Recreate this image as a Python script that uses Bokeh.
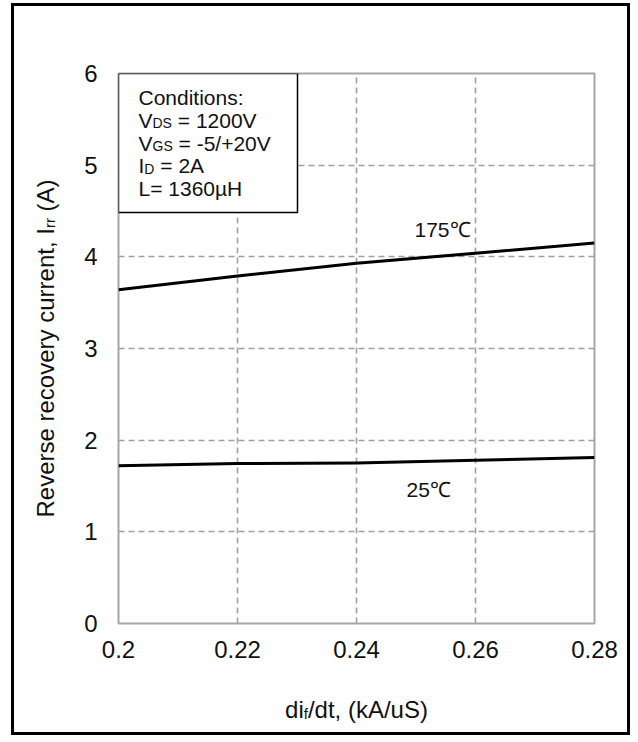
import math
from bokeh.plotting import figure
from bokeh.models import Range1d, FixedTicker, CustomJSTickFormatter, Label, BoxAnnotation
from bokeh.embed import file_html
from bokeh.resources import INLINE

# ---- data ----
di_dt = [0.20, 0.22, 0.24, 0.26, 0.28]
irr_175 = [3.64, 3.79, 3.93, 4.04, 4.15]
irr_25 = [1.72, 1.745, 1.75, 1.78, 1.81]
x_ticks = [0.2, 0.22, 0.24, 0.26, 0.28]
y_ticks = [0, 1, 2, 3, 4, 5, 6]
series_labels = ["175\u2103", "25\u2103"]
conditions = [
    [("Conditions:", False)],
    [("V", False), ("DS", True), (" = 1200V", False)],
    [("V", False), ("GS", True), (" = -5/+20V", False)],
    [("I", False), ("D", True), (" = 2A", False)],
    [("L= 1360\u00b5H", False)],
]
x_title = [("di", False), ("f", True), ("/dt, (kA/uS)", False)]
y_title = [("Reverse recovery current, I", False), ("rr", True), (" (A)", False)]

FONT = "Liberation Sans"
TXT = "#111111"

# ---- geometry, in page pixels ----
OX, OY, BW = 11, 3, 3          # outer black frame: left/top offset and width
CW, CH = 633 - (OX + BW), 738 - (OY + BW)   # canvas inside the frame
RX0, RX1, RY0, RY1 = 118, 594, 73, 623      # plot area on the page
XMIN, XMAX, YMIN, YMAX = 0.2, 0.28, 0.0, 6.0
BASE_FIX = 7   # rendered alphabetic baseline sits this much below the anchor


def dx(px):
    return XMIN + (px - RX0) / (RX1 - RX0) * (XMAX - XMIN)


def dy(py):
    return YMIN + (RY1 - py) / (RY1 - RY0) * (YMAX - YMIN)


# Arial / Liberation Sans advance widths (per 1000 em)
AW = {' ': 278, '(': 333, ')': 333, '+': 584, ',': 278, '-': 333, '.': 278, '/': 278,
      ':': 278, '=': 584, 'A': 667, 'C': 722, 'D': 722, 'G': 778, 'H': 722, 'I': 278,
      'L': 556, 'R': 722, 'S': 667, 'V': 667, 'a': 556, 'c': 500, 'd': 556, 'e': 556,
      'f': 278, 'i': 222, 'k': 500, 'n': 556, 'o': 556, 'r': 333, 's': 500, 't': 278,
      'u': 556, 'v': 500, 'y': 500, '\u00b5': 576}


def tw(s, size):
    return sum(AW.get(c, 556) for c in s) * size / 1000.0


p = figure(width=CW, height=CH, x_range=Range1d(XMIN, XMAX), y_range=Range1d(YMIN, YMAX),
           output_backend="svg", toolbar_location=None,
           min_border_left=RX0 - (OX + BW), min_border_right=(CW + OX + BW) - RX1,
           min_border_top=RY0 - (OY + BW), min_border_bottom=(CH + OY + BW) - RY1)
p.margin = (OY, 0, 0, OX)
p.styles = {"border": "%dpx solid black" % BW}
p.background_fill_color = "white"
p.border_fill_color = "white"
p.outline_line_color = "#a6a6a6"
p.outline_line_width = 2

for ax in (p.xaxis, p.yaxis):
    ax.axis_line_color = None
    ax.major_tick_line_color = None
    ax.minor_tick_line_color = None
    ax.major_label_text_font = FONT
    ax.major_label_text_font_size = "24px"
    ax.major_label_text_color = TXT
p.xaxis.ticker = FixedTicker(ticks=x_ticks)
p.yaxis.ticker = FixedTicker(ticks=y_ticks)
p.xaxis.formatter = CustomJSTickFormatter(code="return tick.toFixed(2).replace(/0+$/, '');")
p.xaxis.major_label_standoff = 11
p.yaxis.major_label_standoff = 15

for g in (p.xgrid, p.ygrid):
    g.grid_line_color = "#a0a0a0"
    g.grid_line_width = 1.6
    g.grid_line_dash = "6 4"

p.line(di_dt, irr_175, line_color="black", line_width=3, line_join="round")
p.line(di_dt, irr_25, line_color="black", line_width=3, line_join="round")

# conditions box
p.add_layout(BoxAnnotation(left=XMIN, right=dx(297), top=YMAX, bottom=dy(212),
                           fill_color="white", fill_alpha=1.0,
                           line_color="black", line_alpha=1.0, line_width=1.5))


def lab(px, py, text, size, angle=0.0, side="center"):
    if angle == 0.0:
        py -= BASE_FIX
    else:
        px -= BASE_FIX - 1
    lbl = Label(x=dx(px), y=dy(py), text=text, text_font=FONT,
                text_font_size="%.1fpx" % size, text_color=TXT,
                text_align="left", text_baseline="alphabetic", angle=angle)
    p.add_layout(lbl, side)


def rich_h(px, py, pieces, size, sub_size, drop, sides=None):
    x = px
    for i, (t, sub) in enumerate(pieces):
        s = sub_size if sub else size
        st = t.lstrip(" ")
        x += tw(t[:len(t) - len(st)], s)
        lab(x, py + (drop if sub else 0), st, s,
            side=(sides[i] if sides else "center"))
        x += tw(st, s)


def rich_v(px, py, pieces, size, sub_size, drop, sides=None):
    y = py
    for i, (t, sub) in enumerate(pieces):
        s = sub_size if sub else size
        st = t.lstrip(" ")
        y -= tw(t[:len(t) - len(st)], s)
        lab(px + (drop if sub else 0), y, st, s, angle=math.pi / 2,
            side=(sides[i] if sides else "center"))
        y -= tw(st, s)


# conditions text
for i, line in enumerate(conditions):
    rich_h(138, 104 + i * 22.8, line, 21, 14, 3)

# series labels
lab(414, 236, series_labels[0], 21)
lab(406, 496, series_labels[1], 21)

# axis titles (placed in side panels so they are not clipped to the plot area)
xw = sum(tw(t, 15 if s else 24) for t, s in x_title)
rich_h((RX0 + RX1) / 2 - xw / 2, 716, x_title, 24, 15, 4,
       sides=["above", "above", "below"])
yw = sum(tw(t, 15 if s else 24) for t, s in y_title)
rich_v(51, (RY0 + RY1) / 2 + yw / 2, y_title, 24, 15, 4,
       sides=["left", "right", "left"])

open("out.html", "w").write(file_html(p, INLINE))
